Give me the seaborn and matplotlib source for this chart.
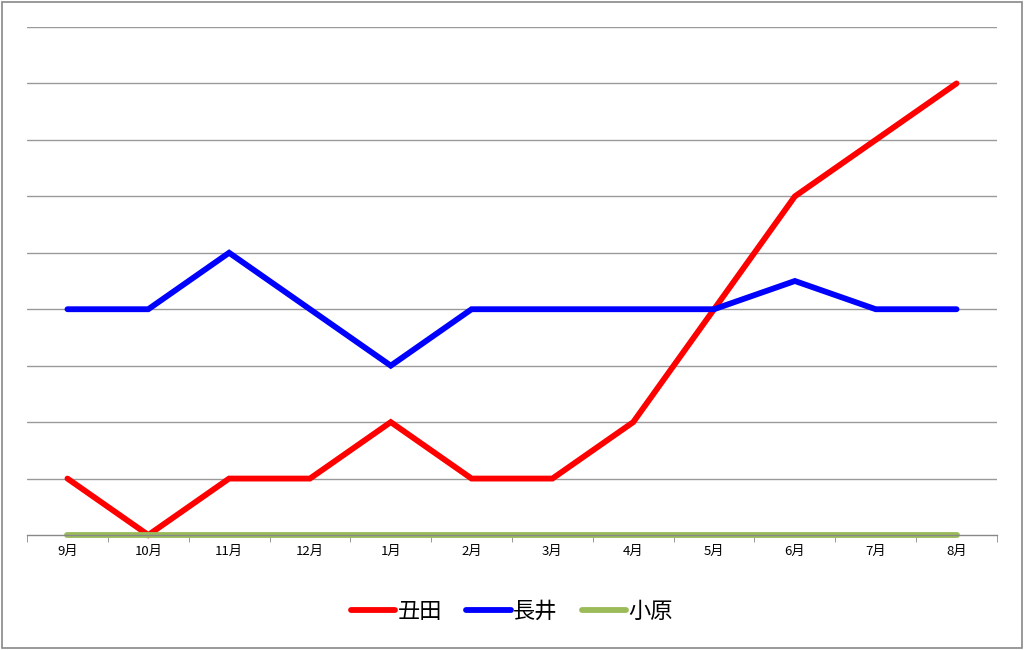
import pandas as pd
import matplotlib.pyplot as plt
import seaborn as sns
from matplotlib.patches import Rectangle

months = ["9月", "10月", "11月", "12月", "1月", "2月", "3月", "4月", "5月", "6月", "7月", "8月"]
ushida = [1, 0, 1, 1, 2, 1, 1, 2, 4, 6, 7, 8]
nagai = [4, 4, 5, 4, 3, 4, 4, 4, 4, 4.5, 4, 4]
ohara = [0, 0, 0, 0, 0, 0, 0, 0, 0, 0, 0, 0]
names = ["丑田", "長井", "小原"]
colors = ["#FF0000", "#0000FF", "#9BBB59"]

df = pd.DataFrame({
    "pos": list(range(len(months))) * 3,
    "value": ushida + nagai + ohara,
    "name": [names[0]] * 12 + [names[1]] * 12 + [names[2]] * 12,
})

sns.set_style("white")
plt.rcParams["font.family"] = ["Noto Sans CJK JP", "DejaVu Sans"]

fig = plt.figure(figsize=(10.24, 6.5), dpi=100)
ax = fig.add_axes([0.0264, 0.1769, 0.9472, 0.7816])

sns.lineplot(data=df, x="pos", y="value", hue="name", palette=colors,
             linewidth=4.2, ax=ax, legend=False, clip_on=False,
             solid_capstyle="round", solid_joinstyle="miter")

ax.set_xlim(-0.5, 11.5)
ax.set_ylim(0, 9)
ax.set_yticks(range(1, 10))
ax.set_yticklabels([])
ax.tick_params(axis="y", length=0)
ax.yaxis.grid(True, color="#9A9A9A", linewidth=1)
ax.set_axisbelow(True)

ax.set_xticks(range(len(months)))
ax.set_xticklabels(months, fontsize=9.5, color="black")
ax.set_xticks([i - 0.5 for i in range(13)], minor=True)
ax.tick_params(axis="x", which="major", length=0, pad=7)
ax.tick_params(axis="x", which="minor", length=5, color="#888888", direction="out", bottom=True)
ax.set_xlabel("")
ax.set_ylabel("")

for s in ["left", "right", "top"]:
    ax.spines[s].set_visible(False)
ax.spines["bottom"].set_color("#888888")
ax.spines["bottom"].set_linewidth(1)

handles = [plt.Line2D([], [], color=c, linewidth=4.2, solid_capstyle="round") for c in colors]
leg = fig.legend(handles, names, loc="center", bbox_to_anchor=(0.5, 0.06), ncol=3,
                 frameon=False, fontsize=16, handlelength=2.0, handletextpad=0.1, columnspacing=1.1)
for t in leg.get_texts():
    t.set_color("black")

fig.patches.append(Rectangle((0.002, 0.003), 0.996, 0.994, transform=fig.transFigure,
                             fill=False, edgecolor="#888888", linewidth=1.2))

plt.savefig("out.png", dpi=100)
